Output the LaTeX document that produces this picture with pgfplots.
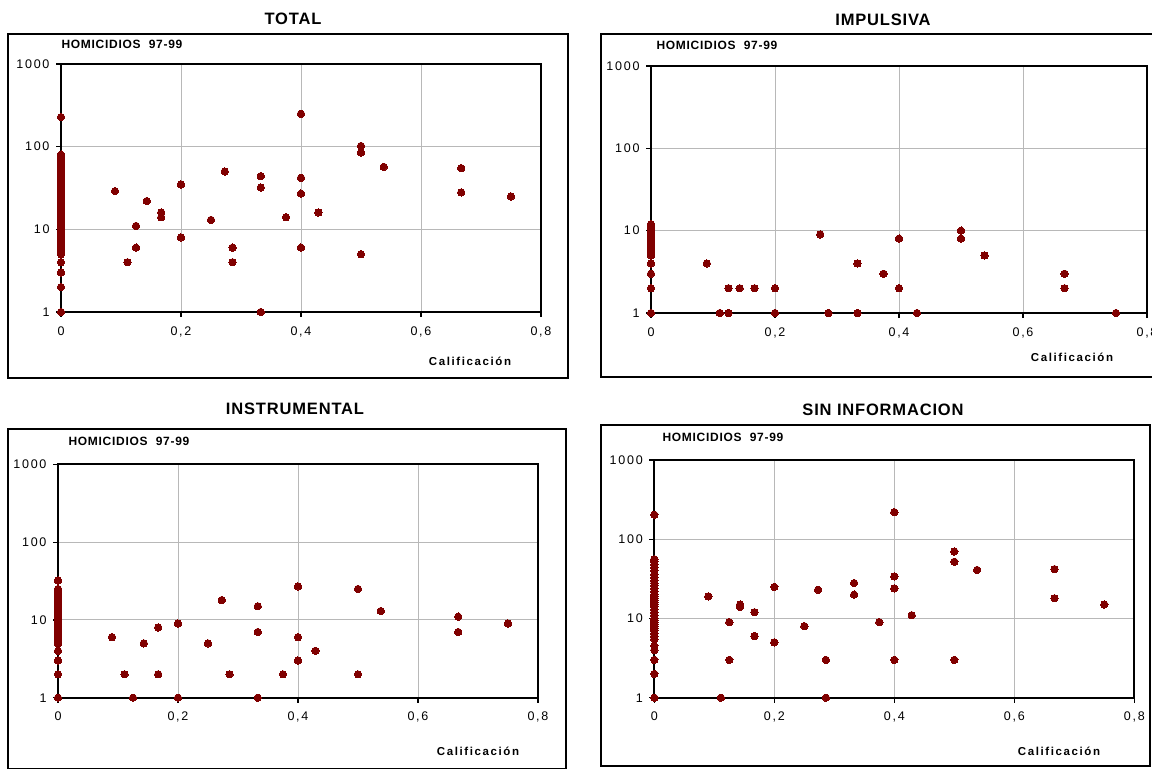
\documentclass[border=0pt]{standalone}
\usepackage{pgfplots}
\pgfplotsset{compat=1.18}
\usepackage{fontspec}
\setmainfont{Liberation Sans}
\newfontfamily\tickfont[LetterSpace=14]{Liberation Sans}
\newfontfamily\hfont[LetterSpace=6]{Liberation Sans}
\newfontfamily\cfont[LetterSpace=14]{Liberation Sans}
\newfontfamily\tfont[LetterSpace=5]{Liberation Sans}
\definecolor{dred}{HTML}{800000}
\pgfplotsset{hpanel/.style={
  scale only axis, xmin=0, xmax=0.8, ymin=1, ymax=1000,
  xtick={0,0.2,0.4,0.6,0.8}, xticklabels={0,{0,2},{0,4},{0,6},{0,8}},
  ytick={1,10,100,1000}, yticklabels={1,10,100,1000}, yminorticks=false,
  grid=major, major grid style={draw=black!28, line width=0.9pt},
  axis line style={line width=1.7pt},
  tick style={black, line width=1.2pt}, tick align=outside, major tick length=5pt,
  tick pos=left,
  tick label style={font=\tickfont\fontsize{12.5}{14}\selectfont},
  xticklabel style={yshift=-6pt},
  yticklabel style={xshift=-3pt},
  clip=false,
}}
\tikzset{dots/.style={only marks, mark=*, mark size=3.7pt, mark options={fill=dred, draw=dred, line width=0pt}}}
\newcommand{\fr}{\tfont\fontsize{16.5}{18}\selectfont\bfseries}
\newcommand{\fh}{\hfont\fontsize{12}{13}\selectfont\bfseries}
\newcommand{\fc}{\cfont\fontsize{11.5}{13}\selectfont\bfseries}
\begin{document}
\begin{tikzpicture}
\useasboundingbox (0pt,0pt) rectangle (1152pt,-769pt);
% frames
\draw[line width=1.6pt] (8pt,-34pt) rectangle (568pt,-378pt);
\draw[line width=1.6pt] (601pt,-34pt) rectangle (1170pt,-377pt);
\draw[line width=1.6pt] (8pt,-429pt) rectangle (566pt,-768.3pt);
\draw[line width=1.6pt] (601pt,-425pt) rectangle (1150pt,-766pt);
% titles
\node at (293pt,-19pt) {\fr TOTAL};
\node at (883pt,-20pt) {\fr IMPULSIVA};
\node at (295pt,-409pt) {\fr INSTRUMENTAL};
\node at (883pt,-410pt) {\fr SIN INFORMACION};
\node[anchor=west] at (58pt,-44pt) {\fh HOMICIDIOS\ \ 97-99};
\node[anchor=west] at (653pt,-45pt) {\fh HOMICIDIOS\ \ 97-99};
\node[anchor=west] at (65pt,-441pt) {\fh HOMICIDIOS\ \ 97-99};
\node[anchor=west] at (659pt,-437pt) {\fh HOMICIDIOS\ \ 97-99};
\node at (470pt,-361pt) {\fc Calificación};
\node at (1072pt,-357pt) {\fc Calificación};
\node at (478pt,-751pt) {\fc Calificación};
\node at (1059pt,-751pt) {\fc Calificación};

% TOTAL
\begin{axis}[ymode=log, hpanel, anchor=south west, at={(61pt,-312pt)}, width=480pt, height=248pt]
\addplot[dots] coordinates {
(0,1)(0,2)(0,3)(0,4)(0,5)(0,5.5)(0,6)(0,6.5)(0,7)(0,7.5)(0,8)(0,8.5)(0,9)(0,9.5)(0,10)(0,11)(0,12)(0,13)(0,14)(0,15)(0,16)(0,17)(0,18)(0,19)(0,20)(0,22)(0,24)(0,26)(0,28)(0,30)(0,33)(0,36)(0,40)(0,44)(0,48)(0,52)(0,57)(0,62)(0,68)(0,74)(0,80)(0,228)
(0.09,29)(0.111,4)(0.125,11)(0.125,6)(0.143,22)(0.167,16)(0.167,14)(0.2,35)(0.2,8)
(0.25,13)(0.273,50)(0.286,6)(0.286,4)(0.333,44)(0.333,32)(0.333,1)(0.375,14)
(0.4,250)(0.4,42)(0.4,27)(0.4,6)(0.429,16)(0.5,102)(0.5,85)(0.5,5)(0.538,57)
(0.667,55)(0.667,28)(0.75,25)
};
\end{axis}

% IMPULSIVA
\begin{axis}[ymode=log, hpanel, anchor=south west, at={(651pt,-313pt)}, width=496pt, height=247pt]
\addplot[dots] coordinates {
(0,1)(0,2)(0,3)(0,4)(0,5)(0,5.5)(0,6)(0,6.5)(0,7)(0,7.5)(0,8)(0,8.5)(0,9)(0,9.5)(0,10)(0,11)(0,12)
(0.09,4)(0.111,1)(0.125,1)(0.125,2)(0.143,2)(0.167,2)(0.2,2)(0.2,1)(0.273,9)(0.286,1)
(0.333,4)(0.333,1)(0.375,3)(0.4,8)(0.4,2)(0.429,1)(0.5,10)(0.5,8)(0.538,5)
(0.667,3)(0.667,2)(0.75,1)
};
\end{axis}

% INSTRUMENTAL
\begin{axis}[ymode=log, hpanel, anchor=south west, at={(58pt,-697.7pt)}, width=480pt, height=233.4pt]
\addplot[dots] coordinates {
(0,1)(0,2)(0,3)(0,4)(0,5)(0,5.5)(0,6)(0,6.5)(0,7)(0,7.5)(0,8)(0,8.5)(0,9)(0,9.5)(0,10)(0,11)(0,12)(0,13)(0,14)(0,15)(0,16)(0,17)(0,18)(0,19)(0,20)(0,21)(0,22)(0,23)(0,25)(0,32)
(0.09,6)(0.111,2)(0.125,1)(0.143,5)(0.167,8)(0.167,2)(0.2,9)(0.2,1)(0.25,5)
(0.273,18)(0.286,2)(0.333,15)(0.333,7)(0.333,1)(0.375,2)(0.4,27)(0.4,6)(0.4,3)
(0.429,4)(0.5,25)(0.5,2)(0.538,13)(0.667,11)(0.667,7)(0.75,9)
};
\end{axis}

% SIN INFORMACION
\begin{axis}[ymode=log, hpanel, anchor=south west, at={(654.3pt,-697.7pt)}, width=480pt, height=237.7pt]
\addplot[dots] coordinates {
(0,1)(0,2)(0,3)(0,4)(0,4.5)(0,5.5)(0,6)(0,6.5)(0,7)(0,7.5)(0,8)(0,8.5)(0,9)(0,9.5)(0,10)(0,11)(0,12)(0,13)(0,14)(0,15)(0,16)(0,17)(0,18)(0,19)(0,20)(0,22)(0,24)(0,26)(0,28)(0,30)(0,33)(0,36)(0,40)(0,44)(0,48)(0,52)(0,56)(0,204)
(0.09,19)(0.111,1)(0.125,9)(0.125,3)(0.143,15)(0.143,14)(0.167,12)(0.167,6)
(0.2,25)(0.2,5)(0.25,8)(0.273,23)(0.286,3)(0.286,1)(0.333,28)(0.333,20)(0.375,9)
(0.4,220)(0.4,34)(0.4,24)(0.4,3)(0.429,11)(0.5,70)(0.5,52)(0.5,3)(0.538,41)
(0.667,42)(0.667,18)(0.75,15)
};
\end{axis}
\end{tikzpicture}
\end{document}
